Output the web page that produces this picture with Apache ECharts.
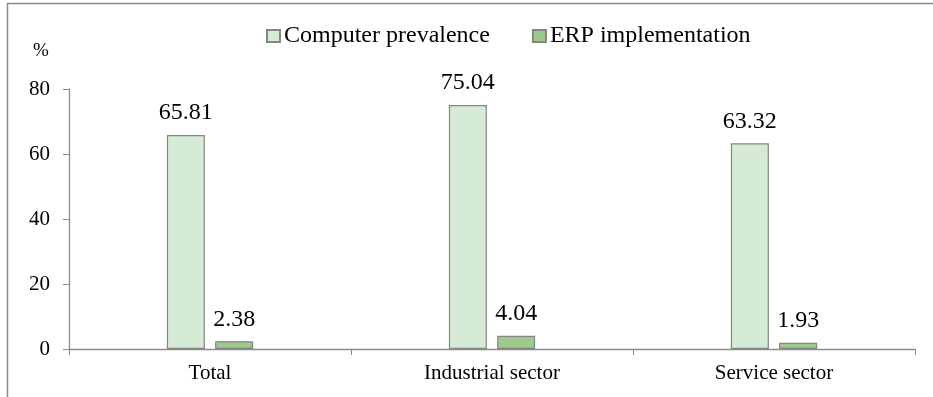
<!DOCTYPE html>
<html>
<head>
<meta charset="utf-8">
<script src="https://cdn.jsdelivr.net/npm/echarts@6/dist/echarts.min.js"></script>
<style>
  html, body { margin: 0; padding: 0; background: #fff; }
  #chart { width: 933px; height: 397px; }
</style>
</head>
<body>
<div id="chart"></div>
<script>
// Sector shares (%) of firms using computers and implementing ERP
const categories = ['Total', 'Industrial sector', 'Service sector'];
const computerPrevalence = [65.81, 75.04, 63.32];
const erpImplementation = [2.38, 4.04, 1.93];
const yTicks = [0, 20, 40, 60, 80];
const seriesNames = ['Computer prevalence', 'ERP implementation'];

const FONT = '"Liberation Serif", "Times New Roman", serif';
const AXIS_GREY = '#8c8c8c';

const chart = echarts.init(document.getElementById('chart'), null, { renderer: 'canvas' });

chart.setOption({
  animation: false,
  textStyle: { fontFamily: FONT, color: '#000' },
  graphic: [
    {
      type: 'rect',
      shape: { x: 7.5, y: 3.5, width: 960, height: 420 },
      style: { fill: 'none', stroke: '#8a8a8a', lineWidth: 1.5 },
      silent: true
    },
    {
      type: 'text',
      left: 33,
      top: 42,
      style: { text: '%', font: '19px ' + FONT, fill: '#000' }
    }
  ],
  legend: {
    top: 19,
    left: 261,
    itemWidth: 13,
    itemHeight: 12,
    itemGap: 42,
    icon: 'rect',
    textStyle: { fontFamily: FONT, fontSize: 24, color: '#000', padding: [0, 0, 0, -1] },
    data: seriesNames
  },
  grid: { left: 69, right: 18, top: 89, bottom: 48, containLabel: false },
  xAxis: {
    type: 'category',
    data: categories,
    axisLine: { lineStyle: { color: AXIS_GREY, width: 1.3 } },
    axisTick: { show: true, length: 6, alignWithLabel: false, lineStyle: { color: AXIS_GREY } },
    axisLabel: { fontFamily: FONT, fontSize: 21, color: '#000', margin: 14 }
  },
  yAxis: {
    type: 'value',
    min: yTicks[0],
    max: yTicks[yTicks.length - 1],
    interval: yTicks[1] - yTicks[0],
    splitLine: { show: false },
    axisLine: { show: true, lineStyle: { color: AXIS_GREY, width: 1.3 } },
    axisTick: { show: true, length: 6, lineStyle: { color: AXIS_GREY } },
    axisLabel: { fontFamily: FONT, fontSize: 21, color: '#000', margin: 19 }
  },
  series: [
    {
      name: seriesNames[0],
      type: 'bar',
      data: computerPrevalence,
      barWidth: 38,
      barGap: '27%',
      itemStyle: { color: '#d5ebd5', borderColor: '#858585', borderWidth: 1.2 },
      label: {
        show: true, position: 'top', distance: 10,
        fontFamily: FONT, fontSize: 24, color: '#000',
        formatter: p => p.value.toFixed(2)
      }
    },
    {
      name: seriesNames[1],
      type: 'bar',
      data: erpImplementation,
      barWidth: 38,
      itemStyle: { color: '#9ec98b', borderColor: '#858585', borderWidth: 1.2 },
      label: {
        show: true, position: 'top', distance: 10,
        fontFamily: FONT, fontSize: 24, color: '#000',
        formatter: p => p.value.toFixed(2)
      }
    }
  ]
});
</script>
</body>
</html>
